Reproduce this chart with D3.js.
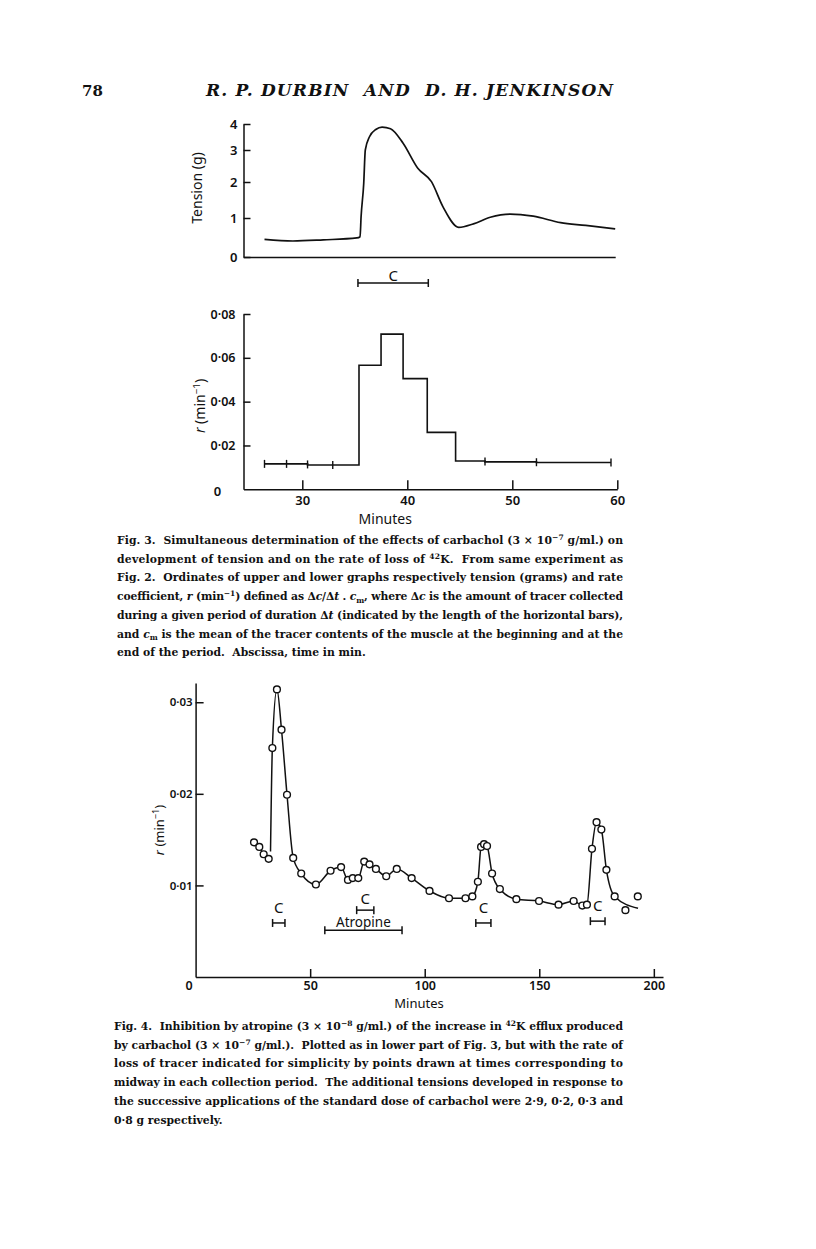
<!DOCTYPE html>
<html lang="en">
<head>
<meta charset="utf-8"/>
<title>Durbin and Jenkinson, p. 78</title>
<script src="https://cdn.jsdelivr.net/npm/d3@7"></script>
<style>
  body { margin: 0; background: #fff; }
  text { white-space: pre; }
</style>
</head>
<body>
<script>
// Fig. 3, upper graph: tension (g) against time (min)
const tensionTime  = [26.4, 29.1, 32.0, 35.2, 35.5, 35.6, 35.85, 36.0, 36.4, 37.0, 37.6, 38.4, 39.6, 41.0, 42.3, 43.4, 44.9, 46.3, 47.9, 49.8, 52.0, 54.6, 57.0, 59.8];
const tensionValue = [0.45, 0.41, 0.44, 0.49, 0.52, 1.04, 1.96, 3.0, 3.51, 3.79, 3.88, 3.82, 3.26, 2.43, 2.01, 1.31, 0.76, 0.85, 1.02, 1.11, 1.05, 0.88, 0.81, 0.72];
const tensionTicks = [0, 1, 2, 3, 4];
const carbacholBar3 = [35.3, 42.0];

// Fig. 3, lower graph: rate coefficient r for each collection period
const periodStart = [26.4, 28.5, 30.5, 32.9, 35.4, 37.5, 39.6, 41.9, 44.6, 47.4, 52.3];
const periodEnd = 59.4;
const periodRate = [0.0116, 0.0116, 0.0111, 0.0111, 0.0566, 0.0708, 0.0505, 0.026, 0.0129, 0.0125, 0.0122];
const rateTicks3 = [0.02, 0.04, 0.06, 0.08];
const minuteTicks3 = [30, 40, 50, 60];

// Fig. 4: r (min^-1) at the middle of each collection period
const effluxTime = [25.5, 27.8, 29.7, 31.9, 33.5, 35.5, 37.5, 39.9, 42.6, 46.1, 52.5, 58.9, 63.5, 66.5, 68.6, 71.0, 73.6, 75.9, 78.7, 83.2, 87.8, 94.3, 102.1, 110.6, 117.8, 120.8, 123.2, 124.6, 125.9, 127.2, 129.4, 132.8, 140.0, 149.9, 158.4, 165.0, 168.8, 170.8, 173.0, 175.0, 177.1, 179.3, 182.9, 187.6, 193.0];
const effluxRate = [0.0147, 0.0142, 0.0134, 0.0129, 0.0250, 0.0314, 0.0270, 0.0199, 0.0130, 0.0113, 0.0101, 0.0116, 0.0120, 0.0106, 0.0108, 0.0108, 0.0126, 0.0123, 0.0118, 0.0110, 0.0118, 0.0108, 0.0094, 0.0086, 0.0086, 0.0088, 0.0104, 0.0142, 0.0145, 0.0143, 0.0113, 0.0096, 0.0085, 0.0083, 0.0079, 0.0083, 0.0078, 0.0079, 0.0140, 0.0169, 0.0161, 0.0117, 0.0088, 0.0073, 0.0088];
// the drawn curve: a short piece through the first four points, then the main curve
const firstCurveLead = [24.6, 0.01505];
const mainCurveStart = [32.7, 0.0137];
const mainCurveEnd = [193.1, 0.0075];
const rateTicks4 = [0.01, 0.02, 0.03];
const minuteTicks4 = [50, 100, 150, 200];
const carbacholBars4 = [[33.6, 39.0], [70.3, 77.8], [122.3, 128.9], [172.3, 178.7]];
const carbacholLevel4 = [0.0059, 0.0073, 0.0059, 0.0061];
const atropineBar = [56.4, 90.1];
const atropineLevel = 0.0051;

const caption3 = [
  "Fig. 3.  Simultaneous determination of the effects of carbachol (3 × 10^−7^ g/ml.) on",
  "development of tension and on the rate of loss of ^42^K.  From same experiment as",
  "Fig. 2.  Ordinates of upper and lower graphs respectively tension (grams) and rate",
  "coefficient, *r* (min^−1^) defined as Δ*c*/Δ*t* . *c*_m_, where Δ*c* is the amount of tracer collected",
  "during a given period of duration Δ*t* (indicated by the length of the horizontal bars),",
  "and *c*_m_ is the mean of the tracer contents of the muscle at the beginning and at the",
  "end of the period.  Abscissa, time in min."
];
const caption4 = [
  "Fig. 4.  Inhibition by atropine (3 × 10^−8^ g/ml.) of the increase in ^42^K efflux produced",
  "by carbachol (3 × 10^−7^ g/ml.).  Plotted as in lower part of Fig. 3, but with the rate of",
  "loss of tracer indicated for simplicity by points drawn at times corresponding to",
  "midway in each collection period.  The additional tensions developed in response to",
  "the successive applications of the standard dose of carbachol were 2·9, 0·2, 0·3 and",
  "0·8 g respectively."
];

const ink = "#111";
const sans = "'Noto Sans', 'Open Sans', sans-serif";
const serif = "'DejaVu Serif', serif";
const fmt = v => d3.format(".2f")(v).replace(".", "·");

const svg = d3.select("body").append("svg")
  .attr("width", 816).attr("height", 1249);
svg.append("rect").attr("width", 816).attr("height", 1249).attr("fill", "#fff");

function styleAxis(g, size) {
  g.attr("font-family", null).attr("font-size", null);
  g.selectAll("path, line").attr("stroke", ink).attr("stroke-width", 1.5);
  g.selectAll("text").attr("fill", ink).attr("font-family", sans)
    .attr("font-size", size).attr("font-weight", 600);
}

// text with ^sup^, _sub_ and *italic* pieces
function richText(el, str, size) {
  const parts = str.split(/(\^[^^]+\^|_[^_]+_|\*[^*]+\*)/).filter(s => s.length);
  let shift = 0;
  parts.forEach(p => {
    const t = el.append("tspan");
    let dy = -shift;
    shift = 0;
    if (p[0] === "^") {
      t.text(p.slice(1, -1)).attr("font-size", size * 0.7);
      dy += -size * 0.38; shift = -size * 0.38;
    } else if (p[0] === "_" ) {
      t.text(p.slice(1, -1)).attr("font-size", size * 0.7);
      dy += size * 0.25; shift = size * 0.25;
    } else if (p[0] === "*") {
      t.text(p.slice(1, -1)).attr("font-style", "italic");
    } else {
      t.text(p);
    }
    if (dy) t.attr("dy", dy);
  });
}

// ---------- header ----------
svg.append("text").attr("x", 82).attr("y", 96)
  .attr("font-family", serif).attr("font-weight", "bold").attr("font-size", 15)
  .attr("fill", ink).text("78");
svg.append("text").attr("x", 206).attr("y", 96)
  .attr("font-family", serif).attr("font-style", "italic").attr("font-weight", "bold")
  .attr("font-size", 17)
  .attr("textLength", 407).attr("lengthAdjust", "spacing")
  .attr("fill", ink).text("R. P. DURBIN  AND  D. H. JENKINSON");

// ---------- Fig. 3 ----------
const x3 = d3.scaleLinear().domain([24.4, 60]).range([243.5, 617.3]);
const yT = d3.scaleLinear().domain(tensionTicks).range([257, 218, 182, 150, 124]);
const yR3 = d3.scaleLinear().domain([0, 0.08]).range([489.3, 314]);

// upper: tension
svg.append("g").attr("transform", `translate(${x3(24.4)},0)`)
  .call(d3.axisLeft(yT).tickValues(tensionTicks).tickSize(-7).tickSizeOuter(0).tickPadding(6).tickFormat(d3.format("d")))
  .call(g => styleAxis(g, 13));
const xTop = x3.copy().domain([24.4, 59.8]).range([x3(24.4), x3(59.8)]);
svg.append("g").attr("transform", `translate(0,${yT(0)})`)
  .call(d3.axisBottom(xTop).tickValues([]).tickSizeOuter(0))
  .call(g => styleAxis(g, 12));

svg.append("path")
  .datum(tensionTime.map((t, i) => [t, tensionValue[i]]))
  .attr("fill", "none").attr("stroke", ink).attr("stroke-width", 1.7)
  .attr("d", d3.line().x(d => x3(d[0])).y(d => yT(d[1])).curve(d3.curveMonotoneX));

svg.append("text").attr("transform", `translate(202,188) rotate(-90)`)
  .attr("text-anchor", "middle").attr("font-family", sans).attr("font-size", 14)
  .attr("fill", ink).text("Tension (g)");

const cBarY = yT(0) + 26;
const cBar3 = svg.append("g").attr("stroke", ink).attr("stroke-width", 1.5);
cBar3.append("line").attr("x1", x3(carbacholBar3[0])).attr("x2", x3(carbacholBar3[1])).attr("y1", cBarY).attr("y2", cBarY);
carbacholBar3.forEach(t => cBar3.append("line").attr("x1", x3(t)).attr("x2", x3(t)).attr("y1", cBarY - 4).attr("y2", cBarY + 4));
svg.append("text").attr("x", x3(d3.mean(carbacholBar3))).attr("y", cBarY - 2)
  .attr("text-anchor", "middle").attr("font-family", sans).attr("font-size", 15)
  .attr("fill", ink).text("C");

// lower: rate coefficient steps
svg.append("g").attr("transform", `translate(${x3(24.4)},0)`)
  .call(d3.axisLeft(yR3).tickValues(rateTicks3).tickSize(-7).tickSizeOuter(0).tickPadding(8).tickFormat(fmt))
  .call(g => styleAxis(g, 12.5));
svg.append("g").attr("transform", `translate(0,${yR3(0)})`)
  .call(d3.axisBottom(x3).tickValues(minuteTicks3).tickSize(-9).tickSizeOuter(0).tickPadding(6))
  .call(g => styleAxis(g, 13));
svg.append("text").attr("x", x3(24.4) - 26).attr("y", yR3(0) + 7)
  .attr("text-anchor", "middle").attr("font-family", sans).attr("font-size", 13)
  .attr("font-weight", 600).attr("fill", ink).text("0");

const steps = periodStart.map((t, i) => [t, periodRate[i]])
  .concat([[periodEnd, periodRate[periodRate.length - 1]]]);
svg.append("path").datum(steps)
  .attr("fill", "none").attr("stroke", ink).attr("stroke-width", 1.6)
  .attr("d", d3.line().x(d => x3(d[0])).y(d => yR3(d[1])).curve(d3.curveStepAfter));

const bounds = periodStart.concat([periodEnd]);
bounds.forEach((t, i) => {
  const left = i > 0 ? periodRate[i - 1] : periodRate[0];
  const right = i < periodRate.length ? periodRate[i] : left;
  if (Math.abs(left - right) > 0.003) return;
  const yy = yR3((left + right) / 2);
  svg.append("line").attr("x1", x3(t)).attr("x2", x3(t))
    .attr("y1", yy - 4).attr("y2", yy + 4)
    .attr("stroke", ink).attr("stroke-width", 1.4);
});

svg.append("text").attr("transform", `translate(205,406) rotate(-90)`)
  .attr("text-anchor", "middle").attr("font-family", sans).attr("font-size", 14)
  .attr("fill", ink)
  .call(t => richText(t, "*r* (min^−1^)", 14));
svg.append("text").attr("x", x3(37.9)).attr("y", 524)
  .attr("text-anchor", "middle").attr("font-family", sans).attr("font-size", 14)
  .attr("fill", ink).text("Minutes");

// ---------- Fig. 4 ----------
const x4 = d3.scaleLinear().domain([0, 204]).range([195.6, 663]);
const y4 = d3.scaleLinear().domain([0, 0.0321]).range([977, 683]);

svg.append("g").attr("transform", `translate(${x4(0)},0)`)
  .call(d3.axisLeft(y4).tickValues(rateTicks4).tickSize(-8).tickSizeOuter(0).tickPadding(3).tickFormat(fmt))
  .call(g => styleAxis(g, 11.5));
svg.append("g").attr("transform", `translate(0,${y4(0)})`)
  .call(d3.axisBottom(x4).tickValues(minuteTicks4).tickSize(-8).tickSizeOuter(0).tickPadding(4.5))
  .call(g => styleAxis(g, 12.5));
svg.append("text").attr("x", x4(0) - 6.5).attr("y", y4(0) + 13)
  .attr("text-anchor", "middle").attr("font-family", sans).attr("font-size", 12.5)
  .attr("font-weight", 600).attr("fill", ink).text("0");

const pts4 = effluxTime.map((t, i) => [t, effluxRate[i]]);
const line4 = d3.line().x(d => x4(d[0])).y(d => y4(d[1])).curve(d3.curveMonotoneX);
const curveA = [firstCurveLead].concat(pts4.slice(0, 4));
const curveB = [mainCurveStart].concat(pts4.slice(4, 43), [mainCurveEnd]);
[curveA, curveB].forEach(c => svg.append("path").datum(c)
  .attr("fill", "none").attr("stroke", ink).attr("stroke-width", 1.5).attr("d", line4));

svg.append("g").selectAll("circle").data(pts4).join("circle")
  .attr("cx", d => x4(d[0])).attr("cy", d => y4(d[1])).attr("r", 3.4)
  .attr("fill", "#fff").attr("stroke", ink).attr("stroke-width", 1.4);

function hBar(span, level, label, size, gap) {
  const yy = y4(level);
  const g = svg.append("g").attr("stroke", ink).attr("stroke-width", 1.5);
  g.append("line").attr("x1", x4(span[0])).attr("x2", x4(span[1])).attr("y1", yy).attr("y2", yy);
  span.forEach(t => g.append("line").attr("x1", x4(t)).attr("x2", x4(t)).attr("y1", yy - 4).attr("y2", yy + 4));
  svg.append("text").attr("x", x4(d3.mean(span))).attr("y", yy - gap)
    .attr("text-anchor", "middle").attr("font-family", sans).attr("font-size", size)
    .attr("fill", ink).text(label);
}
carbacholBars4.forEach((s, i) => hBar(s, carbacholLevel4[i], "C", 15, i === 1 ? 6 : 10));
hBar(atropineBar, atropineLevel, "Atropine", 13.5, 3);

svg.append("text").attr("transform", `translate(164,830) rotate(-90)`)
  .attr("text-anchor", "middle").attr("font-family", sans).attr("font-size", 13)
  .attr("fill", ink)
  .call(t => richText(t, "*r* (min^−1^)", 13));
svg.append("text").attr("x", 419).attr("y", 1008)
  .attr("text-anchor", "middle").attr("font-family", sans).attr("font-size", 13)
  .attr("fill", ink).text("Minutes");

// ---------- captions ----------
function caption(lines, x, y0, width) {
  lines.forEach((s, i) => {
    const t = svg.append("text").attr("x", x).attr("y", y0 + i * 18.7)
      .attr("font-family", serif).attr("font-weight", "bold")
      .attr("font-size", 10.8).attr("fill", ink);
    richText(t, s, 10.8);
    if (i < lines.length - 1) t.attr("textLength", width).attr("lengthAdjust", "spacing");
  });
}
caption(caption3, 117, 544, 506);
caption(caption4, 114, 1030, 509);
</script>
</body>
</html>
